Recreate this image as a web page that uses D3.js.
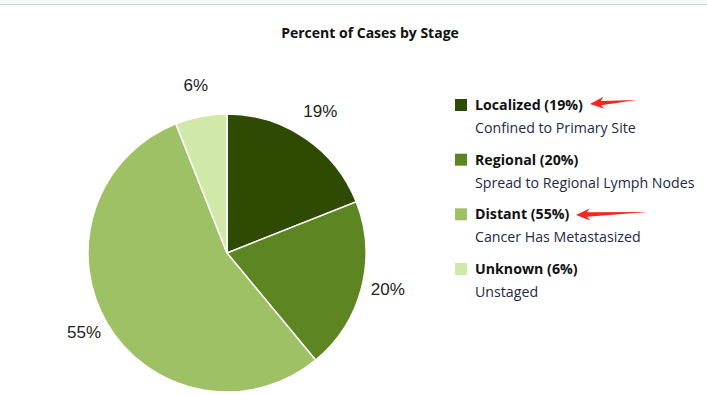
<!DOCTYPE html>
<html>
<head>
<meta charset="utf-8">
<script src="https://cdn.jsdelivr.net/npm/d3@7"></script>
<style>
  body { margin: 0; background: #fff; }
  svg { display: block; }
</style>
</head>
<body>
<script>
"use strict";

// chart data
const stages = ["Localized", "Regional", "Distant", "Unknown"]
const percents = [19, 20, 55, 6]
const descriptions = ["Confined to Primary Site", "Spread to Regional Lymph Nodes", "Cancer Has Metastasized", "Unstaged"]
const stageColors = ["#2f4b03", "#5d8522", "#9dc164", "#d0e9a8"]
// arrows drawn on the screenshot point at these rows
const arrowRows = ["Localized", "Distant"]

const measurements = { width: 707, height: 395 }

const svg = d3.select("body").append("svg")
    .attr("width", measurements.width)
    .attr("height", measurements.height)

// faint strip at the top of the page
svg.append("rect").attr("x", 0).attr("y", 0).attr("width", measurements.width).attr("height", 4).attr("fill", "#f6f8f7")
svg.append("line").attr("x1", 0).attr("x2", measurements.width).attr("y1", 4.5).attr("y2", 4.5)
    .attr("stroke", "#d4d6d5").attr("stroke-width", 1)

svg.append("text")
    .attr("x", 370).attr("y", 38)
    .attr("text-anchor", "middle")
    .style("font-family", "'Open Sans', sans-serif")
    .style("font-weight", "bold")
    .style("font-size", "14px")
    .attr("fill", "#111")
    .text("Percent of Cases by Stage")

// pie
const cx = 227, cy = 253, radius = 139
const color = d3.scaleOrdinal().domain(stages).range(stageColors)
const pie = d3.pie().sort(null).value(d => d.value)
const arcs = pie(stages.map((s, i) => ({ stage: s, value: percents[i] })))
const arc = d3.arc().innerRadius(0).outerRadius(radius)
const labelArc = d3.arc().innerRadius(radius + 27).outerRadius(radius + 27)

const g = svg.append("g").attr("transform", `translate(${cx},${cy})`)

g.selectAll("path")
    .data(arcs)
    .enter()
    .append("path")
    .attr("d", arc)
    .attr("fill", d => color(d.data.stage))
    .attr("stroke", "#fff")
    .attr("stroke-width", 1.5)

g.selectAll(".lbl")
    .data(arcs)
    .enter()
    .append("text")
    .attr("class", "lbl")
    .attr("transform", d => {
        const [x, y] = labelArc.centroid(d)
        return `translate(${x},${y - 5})`
    })
    .attr("text-anchor", "middle")
    .attr("dy", "0.35em")
    .style("font-family", "'Liberation Sans', Arial, sans-serif")
    .style("font-size", "17px")
    .attr("fill", "#222")
    .text(d => d.data.value + "%")

// legend
const rowY = d3.scaleLinear().domain([0, 3]).range([105, 269])

const legend = svg.selectAll(".legend")
    .data(stages)
    .enter()
    .append("g")
    .attr("class", "legend")
    .attr("transform", (d, i) => `translate(455,${rowY(i)})`)

legend.append("rect")
    .attr("x", 0).attr("y", -6)
    .attr("width", 12).attr("height", 12)
    .attr("fill", d => color(d))

legend.append("text")
    .attr("x", 20).attr("y", 5)
    .style("font-family", "'Open Sans', sans-serif")
    .style("font-weight", "bold")
    .style("font-size", "14.2px")
    .attr("fill", "#111")
    .text((d, i) => `${d} (${percents[i]}%)`)

legend.append("text")
    .attr("x", 20).attr("y", 28)
    .style("font-family", "'Open Sans', sans-serif")
    .style("font-size", "14.2px")
    .attr("fill", "#1c2a44")
    .text((d, i) => descriptions[i])

// red annotation arrows
const arrowTips = { "Localized": [590, 104, 637, 100], "Distant": [576, 215, 648, 212] }
arrowRows.forEach(function(name) {
    const [x1, y1, x2, y2] = arrowTips[name]
    const ang = Math.atan2(y2 - y1, x2 - x1)
    const ux = Math.cos(ang), uy = Math.sin(ang)
    const px = -uy, py = ux
    const headLen = 14, headW = 6, shaftW = 2.2
    const hx = x1 + ux * headLen, hy = y1 + uy * headLen
    const pts = [
        [x1, y1],
        [hx + px * headW, hy + py * headW],
        [hx - ux * 3 + px * shaftW, hy - uy * 3 + py * shaftW],
        [x2, y2],
        [hx - ux * 3 - px * shaftW, hy - uy * 3 - py * shaftW],
        [hx - px * headW, hy - py * headW]
    ]
    svg.append("path")
        .attr("d", d3.line()(pts) + "Z")
        .attr("fill", "#f5261e")
})
</script>
</body>
</html>
